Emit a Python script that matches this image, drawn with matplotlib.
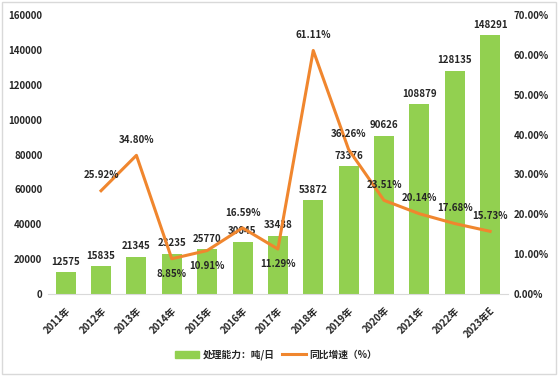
import numpy as np
import matplotlib
matplotlib.use('Agg')
import matplotlib.pyplot as plt
from matplotlib.patches import Rectangle
from matplotlib.ticker import FuncFormatter

plt.rcParams['font.family'] = ['Noto Sans CJK SC', 'DejaVu Sans']

years = ["2011年", "2012年", "2013年", "2014年", "2015年", "2016年", "2017年",
         "2018年", "2019年", "2020年", "2021年", "2022年", "2023年E"]
capacity = [12575, 15835, 21345, 23235, 25770, 30045, 33438,
            53872, 73376, 90626, 108879, 128135, 148291]
growth = [np.nan, 25.92, 34.80, 8.85, 10.91, 16.59, 11.29,
          61.11, 36.26, 23.51, 20.14, 17.68, 15.73]
# label above (+) or below (-) the line point
growth_pos = [0, 1, 1, -1, -1, 1, -1, 1, 1, 1, 1, 1, 1]

bar_color = "#92D050"
line_color = "#F0862E"
text_color = "#262626"

fig = plt.figure(figsize=(5.58, 3.76), dpi=100)
ax = fig.add_axes([0.086, 0.218, 0.824, 0.742])
ax2 = ax.twinx()

x = np.arange(len(years))
ax.bar(x, capacity, width=0.565, color=bar_color, zorder=2)
ax.set_ylim(0, 160000)
ax.set_xlim(-0.5, len(years) - 0.5)
ax.set_yticks(np.arange(0, 160001, 20000))
ax.set_xticks(x)
ax.set_xticklabels(years, rotation=45, ha='right', rotation_mode='anchor',
                   fontsize=7, fontweight='bold', color=text_color)

for xi, v in zip(x, capacity):
    ax.annotate(str(v), (xi, v), xytext=(0, 4), textcoords='offset points',
                ha='center', va='bottom', fontsize=7, fontweight='bold', color=text_color)

ax2.plot(x, growth, color=line_color, lw=2.2, zorder=3)
ax2.set_ylim(0, 70)
ax2.set_yticks(np.arange(0, 71, 10))
ax2.yaxis.set_major_formatter(FuncFormatter(lambda v, p: f"{v:.2f}%"))

for xi, g, pos in zip(x, growth, growth_pos):
    if np.isnan(g):
        continue
    off = 11 if pos > 0 else -11
    ax2.annotate(f"{g:.2f}%", (xi, g), xytext=(0, off), textcoords='offset points',
                 ha='center', va='center', fontsize=7, fontweight='bold', color=text_color)

for a in (ax, ax2):
    for s in a.spines.values():
        s.set_visible(False)
    a.tick_params(axis='both', length=0, labelsize=7, labelcolor=text_color)
    for lab in a.get_yticklabels():
        lab.set_fontweight('bold')
ax.spines['bottom'].set_visible(True)
ax.spines['bottom'].set_color('#d9d9d9')
ax.tick_params(axis='x', pad=8)
ax.tick_params(axis='y', pad=4)
ax2.tick_params(axis='y', pad=4)

# legend
handles = [plt.Rectangle((0, 0), 1, 1, color=bar_color),
           plt.Line2D([0], [0], color=line_color, lw=2.2)]
fig.legend(handles, ["处理能力：吨/日", "同比增速（%）"], loc='center',
           bbox_to_anchor=(0.495, 0.056), ncol=2, frameon=False,
           prop={'size': 7, 'weight': 'bold'}, handlelength=2.4,
           columnspacing=0.8, handletextpad=0.4, labelcolor=text_color)

fig.patches.append(Rectangle((0.004, 0.006), 0.992, 0.988, transform=fig.transFigure,
                             fill=False, edgecolor='#d9d9d9', lw=1))

fig.savefig("out.png", dpi=100)
